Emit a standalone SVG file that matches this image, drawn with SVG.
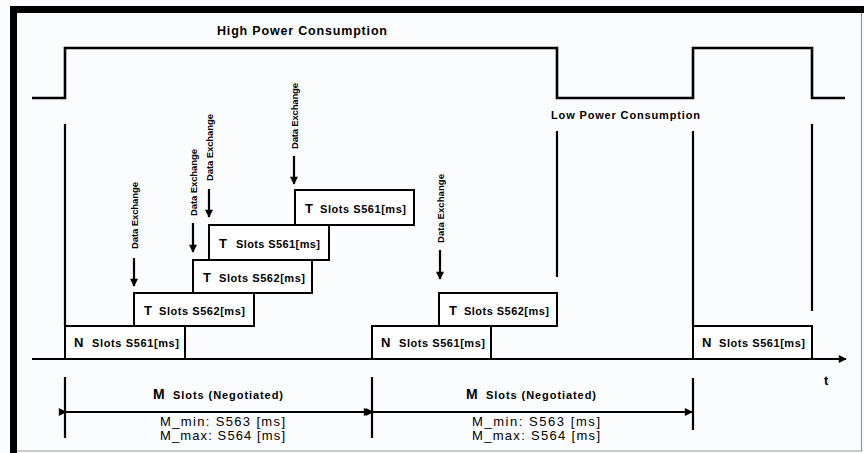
<svg xmlns="http://www.w3.org/2000/svg" width="864" height="453" viewBox="0 0 864 453">
<style>
.ln{fill:none;stroke:#000;stroke-width:2.2}
.wave{fill:none;stroke:#000;stroke-width:2.6}
.box{fill:#fff;stroke:#000;stroke-width:2}
.t{font-family:"Liberation Sans",Arial,sans-serif;font-weight:bold;fill:#000}
.big{font-size:13px}
.sm{font-size:11px}
.de{font-size:9.5px}
.dim{font-size:13px;font-weight:normal}
</style>
<defs>
<marker id="dh" viewBox="0 0 10 10" refX="9" refY="5" markerWidth="10" markerHeight="8" orient="auto" markerUnits="userSpaceOnUse">
<path d="M0,0 L10,5 L0,10 z" fill="#000"/>
</marker>
</defs>
<rect x="0" y="0" width="864" height="453" fill="#fbfcfd"/>
<path d="M13.5,453 V9.5 H864" fill="none" stroke="#000" stroke-width="7"/>
<path d="M861.5,13 V451 H17" fill="none" stroke="#999" stroke-width="1.2"/>

<g id="power">
<path class="wave" d="M32,98 H65 V48 H557 V98 H693 V48 H812 V98 H845"/>
<text class="t" x="217" y="35" font-size="12.5" textLength="170">High Power Consumption</text>
<text class="t" x="551" y="119" font-size="11" textLength="149">Low Power Consumption</text>
</g>

<g id="connectors">
<line class="ln" x1="65" y1="124" x2="65" y2="326"/>
<line class="ln" x1="557" y1="131" x2="557" y2="277"/>
<line class="ln" x1="693" y1="131" x2="693" y2="326"/>
<line class="ln" x1="812" y1="124" x2="812" y2="311"/>
<line class="ln" x1="32" y1="359" x2="846" y2="359" marker-end="url(#dh)"/>
<line class="ln" x1="134" y1="258" x2="134" y2="286" marker-end="url(#dh)"/>
<line class="ln" x1="193" y1="223" x2="193" y2="252" marker-end="url(#dh)"/>
<line class="ln" x1="209" y1="189" x2="209" y2="217" marker-end="url(#dh)"/>
<line class="ln" x1="294" y1="156" x2="294" y2="184" marker-end="url(#dh)"/>
<line class="ln" x1="440" y1="250" x2="440" y2="279" marker-end="url(#dh)"/>
<line class="ln" x1="65" y1="377" x2="65" y2="438"/>
<line class="ln" x1="372" y1="377" x2="372" y2="438"/>
<line class="ln" x1="693" y1="378" x2="693" y2="430"/>
<line class="ln" x1="66" y1="412" x2="371" y2="412" marker-start="url(#dh)" marker-end="url(#dh)"/>
<line class="ln" x1="373" y1="412" x2="692" y2="412" marker-start="url(#dh)" marker-end="url(#dh)"/>
</g>

<g id="data-exchange-labels">
<text class="t de" transform="translate(137.5,249) rotate(-90)" textLength="67">Data Exchange</text>
<text class="t de" transform="translate(196.5,216) rotate(-90)" textLength="67">Data Exchange</text>
<text class="t de" transform="translate(212.5,181) rotate(-90)" textLength="67">Data Exchange</text>
<text class="t de" transform="translate(297.5,149) rotate(-90)" textLength="66">Data Exchange</text>
<text class="t de" transform="translate(443.5,243) rotate(-90)" textLength="69">Data Exchange</text>
</g>

<g id="n1"><rect class="box" x="65" y="326" width="120" height="33"/>
<text class="t" x="74" y="347"><tspan class="big">N</tspan><tspan class="sm" x="92" textLength="87">Slots S561[ms]</tspan></text></g>
<g id="t1"><rect class="box" x="134" y="293" width="120" height="33"/>
<text class="t" x="144" y="315"><tspan class="big">T</tspan><tspan class="sm" x="159" textLength="86">Slots S562[ms]</tspan></text></g>
<g id="t2"><rect class="box" x="193" y="260" width="119" height="33"/>
<text class="t" x="203" y="282"><tspan class="big">T</tspan><tspan class="sm" x="219" textLength="86">Slots S562[ms]</tspan></text></g>
<g id="t3"><rect class="box" x="209" y="225" width="120" height="35"/>
<text class="t" x="219" y="248"><tspan class="big">T</tspan><tspan class="sm" x="236" textLength="84">Slots S561[ms]</tspan></text></g>
<g id="t4"><rect class="box" x="295" y="190" width="119" height="35"/>
<text class="t" x="305" y="213"><tspan class="big">T</tspan><tspan class="sm" x="320" textLength="86">Slots S561[ms]</tspan></text></g>
<g id="n2"><rect class="box" x="372" y="326" width="119" height="33"/>
<text class="t" x="381" y="347"><tspan class="big">N</tspan><tspan class="sm" x="399" textLength="86">Slots S561[ms]</tspan></text></g>
<g id="t5"><rect class="box" x="439" y="293" width="118" height="33"/>
<text class="t" x="449" y="315"><tspan class="big">T</tspan><tspan class="sm" x="464" textLength="85">Slots S562[ms]</tspan></text></g>
<g id="n3"><rect class="box" x="693" y="326" width="119" height="33"/>
<text class="t" x="702" y="347"><tspan class="big">N</tspan><tspan class="sm" x="719" textLength="86">Slots S561[ms]</tspan></text></g>

<g id="time-label"><text class="t" x="824" y="385" font-size="13">t</text></g>

<g id="m1">
<text class="t" x="153" y="399"><tspan font-size="14">M</tspan><tspan class="sm" x="173" textLength="110">Slots (Negotiated)</tspan></text>
<text class="t dim" x="160" y="426" textLength="125">M_min: S563 [ms]</text>
<text class="t dim" x="160" y="440" textLength="125">M_max: S564 [ms]</text>
</g>
<g id="m2">
<text class="t" x="466" y="399"><tspan font-size="14">M</tspan><tspan class="sm" x="486" textLength="110">Slots (Negotiated)</tspan></text>
<text class="t dim" x="472" y="426" textLength="128">M_min: S563 [ms]</text>
<text class="t dim" x="472" y="440" textLength="128">M_max: S564 [ms]</text>
</g>
</svg>
